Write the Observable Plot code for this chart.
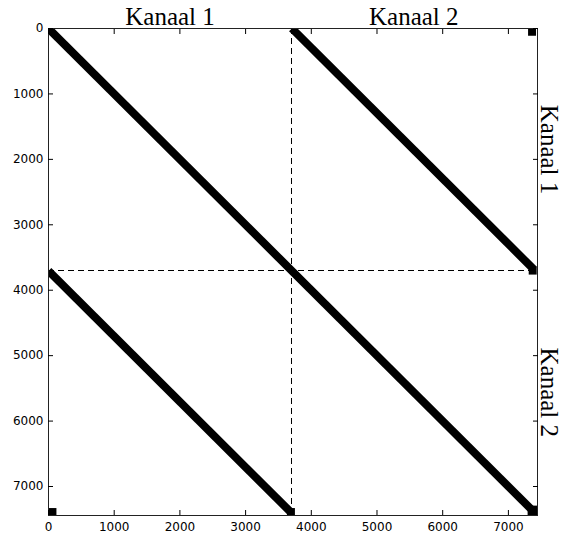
<!DOCTYPE html>
<html><head><meta charset="utf-8">
<script src="https://cdn.jsdelivr.net/npm/d3@7"></script>
<script src="https://cdn.jsdelivr.net/npm/@observablehq/plot@0.6"></script>
<style>body{margin:0;background:#fff;}</style>
</head><body><div id="chart"></div>
<script>
// Axis extent and ticks
const axisMax = 7443;
const tickValues = [0, 1000, 2000, 3000, 4000, 5000, 6000, 7000];
// Channel labels and the centres of their blocks
const channelLabels = ["Kanaal 1", "Kanaal 2"];
const channelCenters = [1850, 5560];
// Block boundary (dashed lines)
const boundary = [3705];
// Diagonal bands
const mainX = [0, 7390], mainY = [0, 7390];
const upperX = [3705, 7390], upperY = [0, 3685];
const lowerX = [0, 3690], lowerY = [3705, 7395];
// Isolated square markers
const markerX = [60, 7360, 7370, 3690, 7380];
const markerY = [7390, 50, 3700, 7390, 7380];
const markerR = [4.5, 4.5, 4.5, 4.5, 6.5];

const line = (xs, ys) => xs.map((x, i) => ({x, y: ys[i]}));
const markers = markerX.map((x, i) => ({x, y: markerY[i], r: markerR[i]}));

const chart = Plot.plot({
  width: 563, height: 540,
  marginLeft: 48, marginRight: 26, marginTop: 28, marginBottom: 25,
  style: {fontFamily: "DejaVu Sans, sans-serif", fontSize: "12px", color: "#000", background: "#fff"},
  x: {domain: [0, axisMax]},
  y: {domain: [0, axisMax], reverse: true},
  r: {type: "identity"},
  marks: [
    Plot.ruleX(boundary, {stroke: "#000", strokeWidth: 1, strokeDasharray: "6,4", shapeRendering: "crispEdges"}),
    Plot.ruleY(boundary, {stroke: "#000", strokeWidth: 1, strokeDasharray: "6,4", shapeRendering: "crispEdges"}),
    Plot.line(line(mainX, mainY), {x: "x", y: "y", stroke: "#000", strokeWidth: 8, strokeLinecap: "butt", clip: true}),
    Plot.line(line(upperX, upperY), {x: "x", y: "y", stroke: "#000", strokeWidth: 8, strokeLinecap: "butt", clip: true}),
    Plot.line(line(lowerX, lowerY), {x: "x", y: "y", stroke: "#000", strokeWidth: 8, strokeLinecap: "butt", clip: true}),
    Plot.dot(markers, {x: "x", y: "y", r: "r", symbol: "square", fill: "#000", clip: true}),
    Plot.frame({stroke: "#222", strokeWidth: 1}),
    Plot.axisX({anchor: "bottom", ticks: tickValues, tickSize: -5, tickPadding: 12, label: null, tickFormat: d => String(d)}),
    Plot.axisX({anchor: "top", ticks: tickValues, tickSize: -5, label: null, tickFormat: () => ""}),
    Plot.axisY({anchor: "left", ticks: tickValues, tickSize: -5, tickPadding: 10, label: null, tickFormat: d => String(d)}),
    Plot.axisY({anchor: "right", ticks: tickValues, tickSize: -5, label: null, tickFormat: () => ""}),
    Plot.text(channelLabels, {x: (d, i) => channelCenters[i], frameAnchor: "top", lineAnchor: "bottom", dy: -4, fontSize: 25, fontFamily: "Liberation Serif, serif", fill: "#000"}),
    Plot.text(channelLabels, {y: (d, i) => channelCenters[i], frameAnchor: "right", rotate: 90, lineAnchor: "bottom", textAnchor: "middle", dx: 3, fontSize: 25, fontFamily: "Liberation Serif, serif", fill: "#000"})
  ]
});
document.getElementById("chart").appendChild(chart);
</script>
</body></html>
